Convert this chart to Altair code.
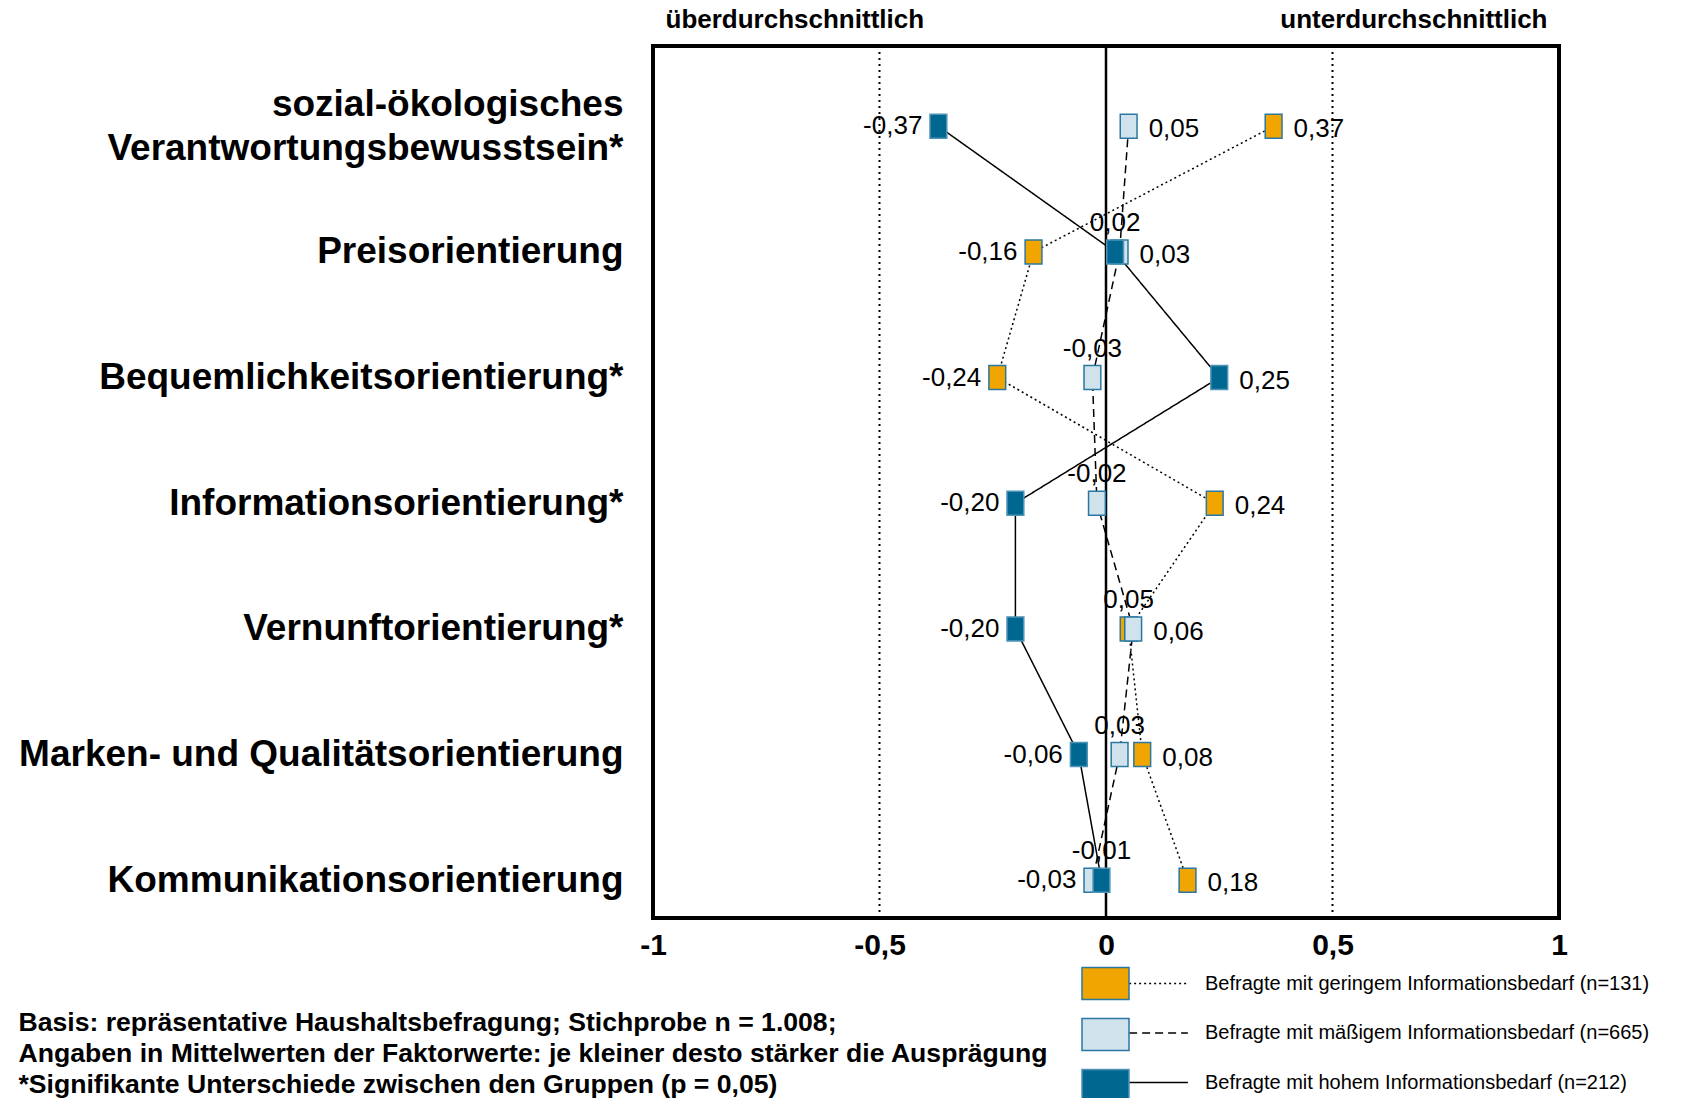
import altair as alt
import pandas as pd

kategorien = [
    "sozial-ökologisches Verantwortungsbewusstsein*",
    "Preisorientierung",
    "Bequemlichkeitsorientierung*",
    "Informationsorientierung*",
    "Vernunftorientierung*",
    "Marken- und Qualitätsorientierung",
    "Kommunikationsorientierung",
]
gruppen = [
    "Befragte mit geringem Informationsbedarf (n=131)",
    "Befragte mit mäßigem Informationsbedarf (n=665)",
    "Befragte mit hohem Informationsbedarf (n=212)",
]
gering = [0.37, -0.16, -0.24, 0.24, 0.05, 0.08, 0.18]
maessig = [0.05, 0.03, -0.03, -0.02, 0.06, 0.03, -0.03]
hoch = [-0.37, 0.02, 0.25, -0.20, -0.20, -0.06, -0.01]
# label side per value: L = left, R = right, T = above
pos_gering = ["R", "L", "L", "R", "T", "R", "R"]
pos_maessig = ["R", "R", "T", "T", "R", "T", "L"]
pos_hoch = ["L", "T", "R", "L", "L", "L", "T"]

x_ticks = [-1, -0.5, 0, 0.5, 1]
dotted_refs = [-0.5, 0.5]
solid_refs = [0]
fuss = [
    "Basis: repräsentative Haushaltsbefragung; Stichprobe n = 1.008;",
    "Angaben in Mittelwerten der Faktorwerte: je kleiner desto stärker die Ausprägung",
    "*Signifikante Unterschiede zwischen den Gruppen (p = 0,05)",
]

fills = ["#F0A500", "#D0E3EC", "#006890"]
strokes = ["#2A78A2", "#2A78A2", "#4F93B8"]
dashes = [[2, 3], [8, 5], [1, 0]]

rows = []
for g, vals, poss in zip(gruppen, [gering, maessig, hoch], [pos_gering, pos_maessig, pos_hoch]):
    for i, (k, v, p) in enumerate(zip(kategorien, vals, poss)):
        rows.append({"Kategorie": k, "Gruppe": g, "Wert": v, "Pos": p, "Idx": i,
                     "Label": f"{v:.2f}".replace(".", ",")})
df = pd.DataFrame(rows)

FONT = "Liberation Sans"
xscale = alt.Scale(domain=[-1, 1], nice=False, zero=False)
yscale = alt.Scale(domain=kategorien, padding=0.47, align=0.68)

first_label = kategorien[0]
y_label_expr = (
    f"datum.label == '{first_label}' ? ['sozial-ökologisches', 'Verantwortungsbewusstsein*'] : datum.label"
)
y_label_offset = {"condition": {"test": f"datum.value == '{first_label}'", "value": -22},
                  "value": 0}

rule_d = alt.Chart(pd.DataFrame({"x": dotted_refs})).mark_rule(
    color="black", strokeWidth=2, strokeDash=[2, 4]
).encode(
    x=alt.X("x:Q", scale=xscale, axis=alt.Axis(
        orient="top", values=[-1, 1],
        labelExpr="datum.value < 0 ? 'überdurchschnittlich' : 'unterdurchschnittlich'",
        labelFlush=True, labelFlushOffset=-12, labelFontSize=26, labelFont=FONT,
        labelFontWeight="bold", labelColor="black", ticks=False, domain=False,
        grid=False, title=None, labelPadding=14, labelLimit=600))
)
rule_s = alt.Chart(pd.DataFrame({"x": solid_refs})).mark_rule(
    color="black", strokeWidth=2.5
).encode(x=alt.X("x:Q", scale=xscale, axis=None))

base = alt.Chart(df)

lines = base.mark_line(color="black", strokeWidth=1.5).encode(
    x=alt.X("Wert:Q", scale=xscale, axis=None),
    y=alt.Y("Kategorie:N", scale=yscale, axis=alt.Axis(
        orient="left", labelExpr=y_label_expr, labelFontSize=37,
        labelFont=FONT, labelFontWeight="bold", labelColor="black", labelPadding=30,
        labelLimit=700, ticks=False, domain=False, grid=False, title=None,
        labelLineHeight=44, labelOffset=y_label_offset)),
    strokeDash=alt.StrokeDash("Gruppe:N", sort=gruppen, scale=alt.Scale(range=dashes),
                              legend=alt.Legend(orient="none", legendX=481, legendY=913,
                                                title=None, symbolType="M-1.25,0H1.25",
                                                symbolSize=2209, symbolStrokeColor="black",
                                                symbolStrokeWidth=1.5, labelFontSize=20,
                                                labelFont=FONT, labelColor="black",
                                                labelOffset=22, rowPadding=14.5, padding=0,
                                                labelLimit=800)),
    order="Idx:Q",
)

rect_path = "M-0.7,-1L0.7,-1L0.7,1L-0.7,1Z"
points = base.mark_point(shape=rect_path, size=576, filled=True, opacity=1,
                         strokeWidth=1.5).encode(
    x=alt.X("Wert:Q", scale=xscale, axis=alt.Axis(
        orient="bottom", values=x_ticks,
        labelExpr="replace(toString(datum.value), '.', ',')",
        labelFontSize=30, labelFont=FONT, labelFontWeight="bold", labelColor="black",
        labelFlush=False, ticks=False, domain=False, grid=False,
        labelPadding=12,
        title=fuss, titleX=-635, titleY=91, titleAlign="left", titleAnchor="start",
        titleBaseline="top", titleFontSize=26.6, titleFont=FONT, titleFontWeight="bold",
        titleColor="black", titleLineHeight=31, titleLimit=1200)),
    y=alt.Y("Kategorie:N", scale=yscale, axis=None),
    fill=alt.Fill("Gruppe:N", scale=alt.Scale(domain=gruppen, range=fills),
                  legend=alt.Legend(orient="none", legendX=428, legendY=913, title=None,
                                    symbolType="M-1,-0.68L1,-0.68L1,0.68L-1,0.68Z",
                                    symbolSize=2209, labelExpr="''",
                                    symbolStrokeColor="#1b1b1b", symbolStrokeWidth=1.5,
                                    symbolOpacity=1, rowPadding=7, padding=0)),
    stroke=alt.Stroke("Gruppe:N", scale=alt.Scale(domain=gruppen, range=strokes),
                      legend=None),
)

def txt(pos, **kw):
    return base.mark_text(font=FONT, fontSize=26, color="black", baseline="middle",
                          **kw).encode(
        x=alt.X("Wert:Q", scale=xscale, axis=None),
        y=alt.Y("Kategorie:N", scale=yscale, axis=None),
        text="Label:N",
    ).transform_filter(alt.datum.Pos == pos)

t_left = txt("L", align="right", dx=-16)
t_right = txt("R", align="left", dx=20, dy=3)
t_top = txt("T", align="center", dy=-29)

chart = alt.layer(rule_d, rule_s, lines, points, t_left, t_right, t_top).resolve_axis(
    x="independent", y="independent"
).properties(
    width=906, height=872,
    autosize=alt.AutoSizeParams(type="none"),
    padding={"left": 653, "top": 46, "right": 125, "bottom": 180},
    background="white",
).configure_view(stroke="black", strokeWidth=4)

chart.save("out.html", embed_options={"renderer": "svg", "actions": False})
